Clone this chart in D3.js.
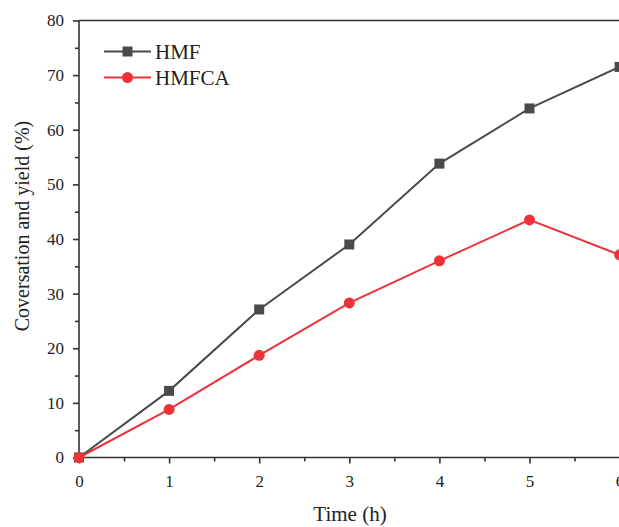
<!DOCTYPE html>
<html>
<head>
<meta charset="utf-8">
<script src="https://cdn.jsdelivr.net/npm/d3@7"></script>
<style>
  html, body { margin: 0; padding: 0; background: #fff; }
  svg { display: block; }
  text { font-family: "Liberation Serif", "Times New Roman", serif; fill: #222; }
</style>
</head>
<body>
<script>
// Reaction time (h)
const timeHours = [0, 1, 2, 3, 4, 5, 6];
// HMF conversation (%)
const hmfValues = [0, 12.2, 27.1, 39.0, 53.8, 63.9, 71.5];
// HMFCA yield (%)
const hmfcaValues = [0, 8.8, 18.7, 28.3, 36.0, 43.5, 37.1];
const xTicks = [0, 1, 2, 3, 4, 5, 6];
const yTicks = [0, 10, 20, 30, 40, 50, 60, 70, 80];
const seriesNames = ["HMF", "HMFCA"];

const W = 619, H = 527;
const svg = d3.select("body").append("svg").attr("width", W).attr("height", H);

const x = d3.scaleLinear().domain([0, 6]).range([79, 619.6]);
const y = d3.scaleLinear().domain([0, 80]).range([457.5, 20.5]);

const axisColor = "#333";
const tickFont = 17;

// frame: left, bottom, top
svg.append("line").attr("x1", x(0)).attr("x2", x(6)).attr("y1", y(0)).attr("y2", y(0))
  .attr("stroke", axisColor).attr("stroke-width", 1.6);
svg.append("line").attr("x1", x(0)).attr("x2", x(6)).attr("y1", y(80)).attr("y2", y(80))
  .attr("stroke", axisColor).attr("stroke-width", 1.6);
svg.append("line").attr("x1", x(0)).attr("x2", x(0)).attr("y1", y(0)).attr("y2", y(80))
  .attr("stroke", axisColor).attr("stroke-width", 1.6);

// x axis
const xAxis = d3.axisBottom(x).tickValues(xTicks).tickSize(6).tickPadding(11).tickFormat(d3.format("d"));
const gx = svg.append("g").attr("transform", `translate(0,${y(0)})`).call(xAxis);
gx.select(".domain").remove();
gx.selectAll(".tick line").attr("stroke", axisColor).attr("stroke-width", 1.6);
gx.selectAll(".tick text").attr("font-size", tickFont).style("font-family", "Liberation Serif").attr("fill", "#222");
const xMinor = d3.axisBottom(x).tickValues(d3.range(0.5, 6, 1)).tickSize(4).tickFormat("");
const gxm = svg.append("g").attr("transform", `translate(0,${y(0)})`).call(xMinor);
gxm.select(".domain").remove();
gxm.selectAll(".tick line").attr("stroke", axisColor).attr("stroke-width", 1.6);

// y axis
const yAxis = d3.axisLeft(y).tickValues(yTicks).tickSize(6).tickPadding(9).tickFormat(d3.format("d"));
const gy = svg.append("g").attr("transform", `translate(${x(0)},0)`).call(yAxis);
gy.select(".domain").remove();
gy.selectAll(".tick line").attr("stroke", axisColor).attr("stroke-width", 1.6);
gy.selectAll(".tick text").attr("font-size", tickFont).style("font-family", "Liberation Serif").attr("fill", "#222");
const yMinor = d3.axisLeft(y).tickValues(d3.range(5, 80, 10)).tickSize(4).tickFormat("");
const gym = svg.append("g").attr("transform", `translate(${x(0)},0)`).call(yMinor);
gym.select(".domain").remove();
gym.selectAll(".tick line").attr("stroke", axisColor).attr("stroke-width", 1.6);

// axis titles
svg.append("text").attr("x", 350).attr("y", 521)
  .attr("text-anchor", "middle").attr("font-size", 21).text("Time (h)");
svg.append("text").attr("transform", `translate(29,226) rotate(-90)`)
  .attr("text-anchor", "middle").attr("font-size", 20).text("Coversation and yield (%)");

const colors = { HMF: "#4a4a4a", HMFCA: "#ee3338" };
const line = d3.line().x((d, i) => x(timeHours[i])).y(d => y(d));

const plot = svg.append("g");
// HMF
plot.append("path").datum(hmfValues).attr("d", line).attr("fill", "none")
  .attr("stroke", colors.HMF).attr("stroke-width", 2);
// HMFCA
plot.append("path").datum(hmfcaValues).attr("d", line).attr("fill", "none")
  .attr("stroke", colors.HMFCA).attr("stroke-width", 2);

const sq = 10;
plot.selectAll("rect.hmf").data(hmfValues).enter().append("rect")
  .attr("x", (d, i) => x(timeHours[i]) - sq / 2).attr("y", d => y(d) - sq / 2)
  .attr("width", sq).attr("height", sq).attr("fill", colors.HMF);
plot.selectAll("circle.hmfca").data(hmfcaValues).enter().append("circle")
  .attr("cx", (d, i) => x(timeHours[i])).attr("cy", d => y(d)).attr("r", 5.5)
  .attr("fill", colors.HMFCA);

// legend
const legend = svg.append("g");
const legY = [51.5, 77.5];
seriesNames.forEach((name, i) => {
  const g = legend.append("g").attr("transform", `translate(0,${legY[i]})`);
  g.append("line").attr("x1", 104).attr("x2", 151).attr("y1", 0).attr("y2", 0)
    .attr("stroke", colors[name]).attr("stroke-width", 2);
  if (name === "HMF") {
    g.append("rect").attr("x", 127.5 - sq / 2).attr("y", -sq / 2).attr("width", sq).attr("height", sq)
      .attr("fill", colors[name]);
  } else {
    g.append("circle").attr("cx", 127.5).attr("cy", 0).attr("r", 5.5).attr("fill", colors[name]);
  }
  g.append("text").attr("x", 155).attr("y", 7.5).attr("font-size", 21).text(name);
});
</script>
</body>
</html>
